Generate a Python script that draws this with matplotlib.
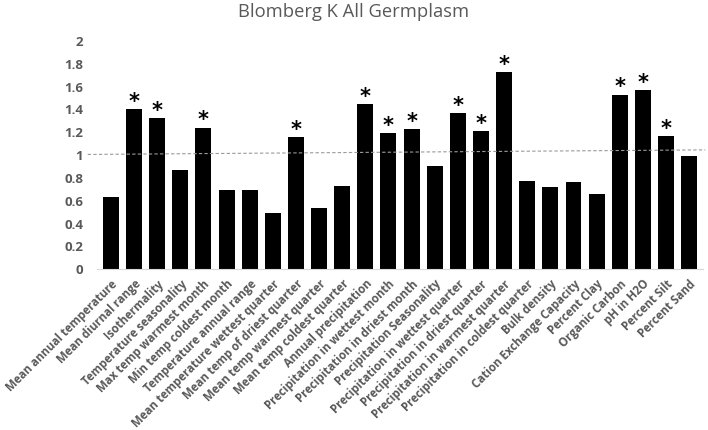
import matplotlib.pyplot as plt
import numpy as np

# données
variables = [
    "Mean annual temperature", "Mean diurnal range", "Isothermality",
    "Temperature seasonality", "Max temp warmest month", "Min temp coldest month",
    "Temperature annual range", "Mean temperature wettest quarter",
    "Mean temp of driest quarter", "Mean temp warmest quarter",
    "Mean temp coldest quarter", "Annual precipitation",
    "Precipitation in wettest month", "Precipitation in driest month",
    "Precipitation Seasonality", "Precipitation in wettest quarter",
    "Precipitation in driest quarter", "Precipitation in warmest quarter",
    "Precipitation in coldest quarter", "Bulk density",
    "Cation Exchange Capacity", "Percent Clay", "Organic Carbon",
    "pH in H2O", "Percent Silt", "Percent Sand",
]
blomberg_k = [0.63, 1.40, 1.32, 0.87, 1.24, 0.69, 0.69, 0.49, 1.155, 0.54,
              0.73, 1.445, 1.195, 1.225, 0.90, 1.37, 1.21, 1.725, 0.775, 0.72,
              0.765, 0.655, 1.53, 1.57, 1.165, 0.995]
significatif = [False, True, True, False, True, False, False, False, True, False,
                False, True, True, True, False, True, True, True, False, False,
                False, False, True, True, True, False]
ligne_ref = [1.005, 1.045]  # ligne pointillée (légèrement inclinée)

gris = "#595959"
plt.rcParams['font.family'] = ['Open Sans', 'DejaVu Sans']

fig = plt.figure(figsize=(7.08, 4.3), dpi=100)
ax = fig.add_axes([0.137, 0.374, 0.856, 0.531])

x = np.arange(len(variables))
barres = ax.bar(x, blomberg_k, width=0.69, color="black")

# astérisques au-dessus des barres significatives
for xi, val, sig in zip(x, blomberg_k, significatif):
    if sig:
        ax.text(xi, val - 0.025, "*", ha="center", va="bottom",
                fontsize=15, fontweight="bold", color="black", family="DejaVu Sans")

ax.plot([-1.0, len(variables) - 0.3], ligne_ref, linestyle=(0, (3, 2)),
        color="#9a9a9a", linewidth=0.8, clip_on=False)

ax.set_xlim(-0.6, len(variables) - 0.4)
ax.set_ylim(0, 2)
ax.set_yticks(np.arange(0, 2.01, 0.2))
ax.set_yticklabels(["0", "0.2", "0.4", "0.6", "0.8", "1", "1.2", "1.4", "1.6", "1.8", "2"],
                   fontsize=9.5, fontweight="bold", color=gris)
ax.set_xticks(x)
ax.set_xticklabels(variables, rotation=45, ha="right", rotation_mode="anchor",
                   fontsize=8.3, fontweight="bold", color=gris)
ax.tick_params(axis="both", length=0, pad=6)
ax.tick_params(axis="y", pad=10)

for s in ["top", "right", "left"]:
    ax.spines[s].set_visible(False)
ax.spines["bottom"].set_color("#d9d9d9")

fig.text(0.5, 0.972, "Blomberg K All Germplasm", ha="center", va="center",
         fontsize=13.2, color=gris)

fig.savefig("out.png", dpi=100)
